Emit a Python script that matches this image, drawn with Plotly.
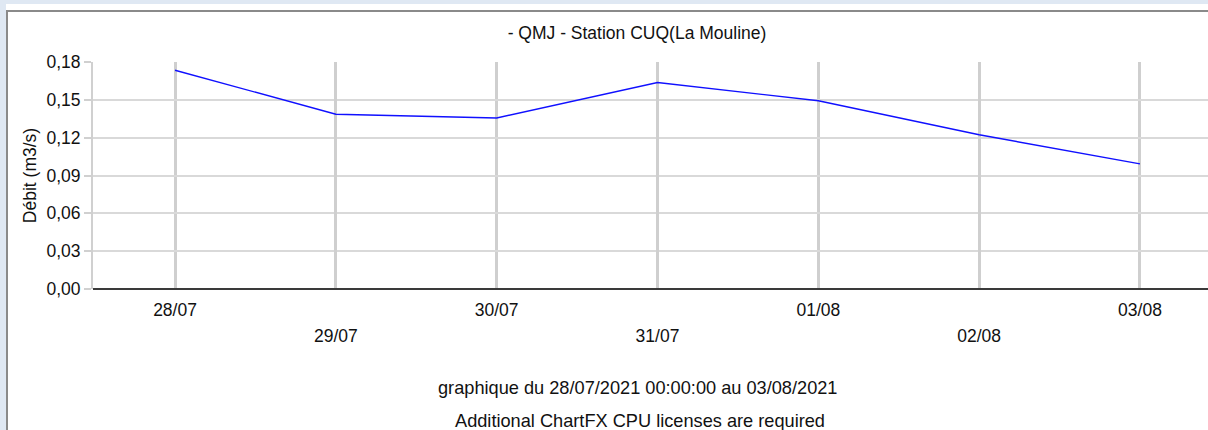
import plotly.graph_objects as go

dates = ["28/07", "29/07", "30/07", "31/07", "01/08", "02/08", "03/08"]
debit = [0.1735, 0.1386, 0.1356, 0.1637, 0.1493, 0.1223, 0.0992]
y_ticks = [0.00, 0.03, 0.06, 0.09, 0.12, 0.15, 0.18]
title_text = "- QMJ - Station CUQ(La Mouline)"
y_title = "Débit (m3/s)"
footer1 = "graphique du 28/07/2021 00:00:00 au 03/08/2021"
footer2 = "Additional ChartFX CPU licenses are required"

idx = list(range(len(dates)))
row1 = [i for i in idx if i % 2 == 0]
row2 = [i for i in idx if i % 2 == 1]

FONT = "Liberation Sans, Arial, sans-serif"
FS = 17.5
FS_FOOT = 18.2
W, H = 1208, 430
L, T, B = 93, 62, 141
xr = [-0.51, 6.423]

fig = go.Figure()
fig.add_trace(go.Scatter(x=idx, y=debit, mode="lines",
                         line=dict(color="#1010ff", width=1.4),
                         showlegend=False, hoverinfo="skip"))

common_x = dict(range=xr, showline=False, zeroline=False, ticks="",
                tickfont=dict(family=FONT, size=FS, color="#111"),
                fixedrange=True)

fig.update_layout(
    width=W, height=H,
    margin=dict(l=L, r=0, t=T, b=B, pad=0),
    paper_bgcolor="#dfe8f3",
    plot_bgcolor="white",
    separators=", ",
    font=dict(family=FONT, size=FS, color="#111"),
    title=dict(text=title_text, x=637 / W, xref="container",
               xanchor="center", y=1 - 33 / H, yanchor="middle",
               font=dict(family=FONT, size=FS, color="#111")),
    xaxis=dict(**common_x, tickmode="array", tickvals=row1,
               ticktext=[dates[i] for i in row1],
               showgrid=True, gridcolor="#cfcfcf", gridwidth=3,
               ticklabelstandoff=8),
    xaxis2=dict(**common_x, overlaying="x", side="bottom", anchor="y",
                tickmode="array", tickvals=row2,
                ticktext=[dates[i] for i in row2],
                showgrid=True, gridcolor="#cfcfcf", gridwidth=3,
                ticklabelstandoff=34),
    yaxis=dict(range=[0, 0.18], tickmode="array", tickvals=y_ticks,
               tickformat=".2f", showgrid=True, gridcolor="#d9d9d9",
               gridwidth=1.5, zeroline=False,
               showline=True, linecolor="#d0d0d0", linewidth=2,
               ticks="outside", ticklen=7, tickcolor="#d0d0d0", tickwidth=1.5,
               tickfont=dict(family=FONT, size=FS, color="#111"),
               title=dict(text=y_title, standoff=5,
                          font=dict(family=FONT, size=FS, color="#111")),
               fixedrange=True),
)

# invisible trace to activate xaxis2
fig.add_trace(go.Scatter(x=[idx[0]], y=[debit[0]], xaxis="x2", mode="markers",
                         marker=dict(opacity=0), showlegend=False, hoverinfo="skip"))

pw = W - L
ph = H - T - B
def px_x(p):
    return (p - L) / pw
def px_y(p):
    return (H - B - p) / ph

# white panel with grey border
fig.add_shape(type="rect", xref="paper", yref="paper",
              x0=px_x(6), x1=px_x(W + 20), y0=px_y(H + 20), y1=px_y(4),
              fillcolor="white", line=dict(width=0), layer="below")
fig.add_shape(type="line", xref="paper", yref="paper",
              x0=px_x(6), x1=px_x(W + 20), y0=px_y(11), y1=px_y(11),
              line=dict(color="#8a8a8a", width=2), layer="below")
fig.add_shape(type="line", xref="paper", yref="paper",
              x0=px_x(7), x1=px_x(7), y0=px_y(11), y1=px_y(H + 20),
              line=dict(color="#8a8a8a", width=2), layer="below")
# x axis line
fig.add_shape(type="line", xref="paper", yref="paper",
              x0=0, x1=1, y0=0, y1=0,
              line=dict(color="#3a3a3a", width=2), layer="above")

fig.add_annotation(text=footer1, xref="paper", yref="paper",
                   x=px_x(637), y=px_y(388), xanchor="center", yanchor="middle",
                   showarrow=False, font=dict(family=FONT, size=FS_FOOT, color="#111"))
fig.add_annotation(text=footer2, xref="paper", yref="paper",
                   x=px_x(640), y=px_y(421), xanchor="center", yanchor="middle",
                   showarrow=False, font=dict(family=FONT, size=FS_FOOT, color="#111"))

fig.write_html("out.html", config={"displayModeBar": False},
               post_script="document.body.style.margin='0';document.body.style.overflow='hidden';")
